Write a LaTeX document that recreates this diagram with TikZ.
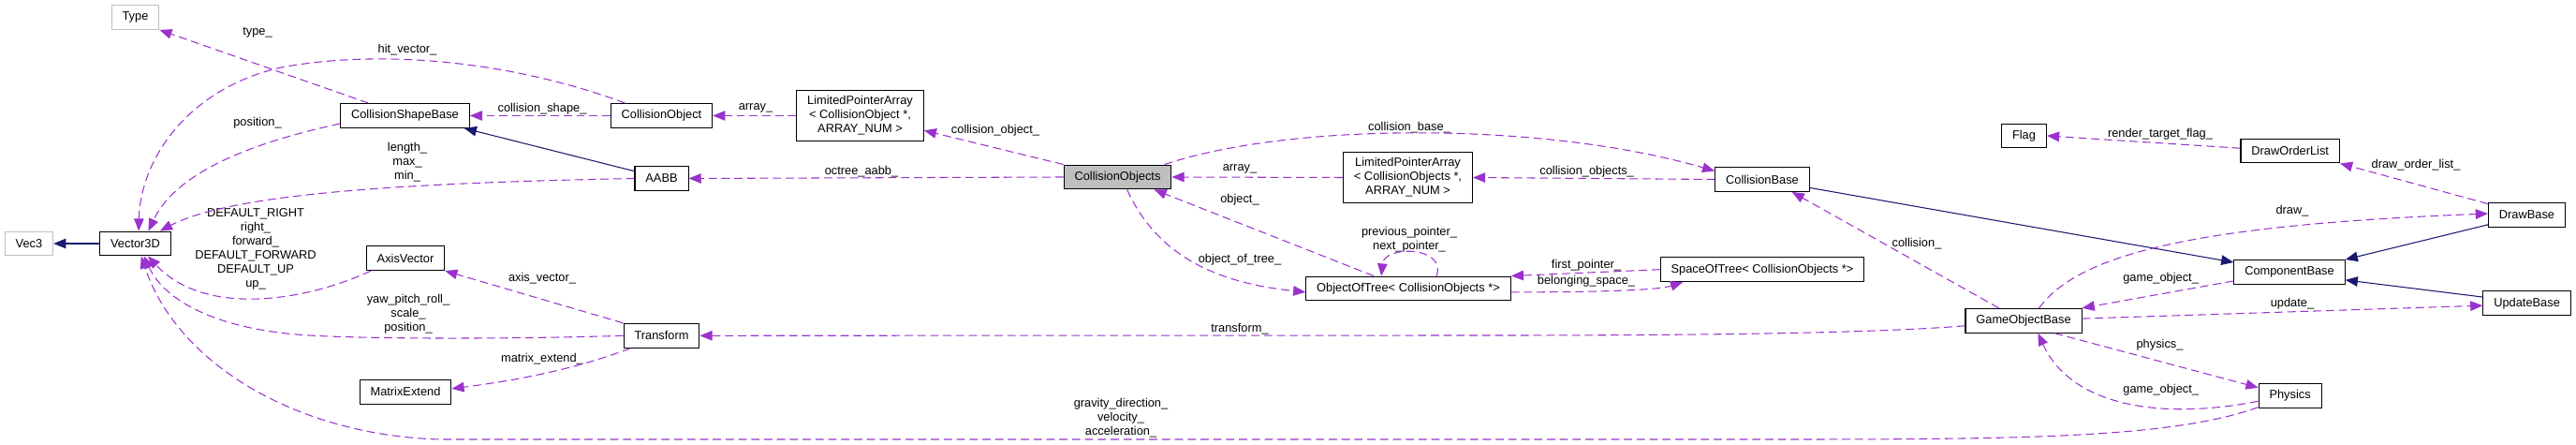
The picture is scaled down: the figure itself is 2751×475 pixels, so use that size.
\documentclass[tikz,border=0pt]{standalone}
\usepackage{fontspec}
\setmainfont{Liberation Sans}
\usetikzlibrary{arrows.meta}
\definecolor{depcol}{HTML}{9A32CD}
\definecolor{inhcol}{HTML}{191970}
\definecolor{undoc}{HTML}{BFBFBF}
\newcommand\dxfont{\fontsize{7.3pt}{8.5pt}\selectfont}
\tikzset{
  cls/.style={draw=black, fill=white, line width=0.6pt, font=\dxfont, inner xsep=6.5pt, inner ysep=2pt, minimum height=14.7pt},
  ext/.style={cls, draw=undoc},
  cur/.style={cls, fill=undoc},
  lpa/.style={cls, align=center, minimum height=31pt},
  dep/.style={draw=depcol, line width=0.6pt, dash pattern=on 5pt off 2.8pt, -{Triangle[length=7.5pt, width=6pt]}},
  inh/.style={draw=inhcol, line width=0.6pt, -{Triangle[length=7.5pt, width=6pt]}},
  lbl/.style={font=\dxfont, align=center, inner sep=0pt}
}

\begin{document}
\begin{tikzpicture}[x=0.02cm, y=-0.02cm]
  \useasboundingbox (0,0) rectangle (2751,475);

  % classes
  \node[ext] at (144.5,18.5) (type) {Type};
  \node[ext] at (31,260) (vec3) {Vec3};
  \node[cls] at (144.5,260) (v3d) {Vector3D};
  \node[cls] at (432.5,123.5) (csb) {CollisionShapeBase};
  \node[cls] at (706.5,123.5) (cobj) {CollisionObject};
  \node[cls] at (706.5,190.5) (aabb) {AABB};
  \node[lpa] at (918.5,123.5) (lpaco) {LimitedPointerArray\\< CollisionObject *,\\ ARRAY\_NUM >};
  \node[cur] at (1193.5,189) (cobjs) {CollisionObjects};
  \node[lpa] at (1503.5,189.5) (lpacos) {LimitedPointerArray\\< CollisionObjects *,\\ ARRAY\_NUM >};
  \node[cls] at (1504,308) (oot) {ObjectOfTree< CollisionObjects *>};
  \node[cls] at (1882,191.5) (cbase) {CollisionBase};
  \node[cls] at (1882,287.7) (sot) {SpaceOfTree< CollisionObjects *>};
  \node[cls] at (2161.5,145) (flag) {Flag};
  \node[cls] at (2445.7,161) (dol) {DrawOrderList};
  \node[cls] at (2698.5,229.5) (dbase) {DrawBase};
  \node[cls] at (2445,290.5) (compb) {ComponentBase};
  \node[cls] at (2698.6,323.7) (updb) {UpdateBase};
  \node[cls] at (2161,342.3) (gob) {GameObjectBase};
  \node[cls] at (2445.6,422.3) (phys) {Physics};
  \node[cls] at (433,275.7) (axis) {AxisVector};
  \node[cls] at (706.5,358.3) (trans) {Transform};
  \node[cls] at (433,418.3) (mext) {MatrixExtend};

  % member labels
  \node[lbl] at (275,35) (l_type) {type\_};
  \node[lbl] at (435,52.7) (l_hit) {hit\_vector\_};
  \node[lbl] at (275,131) (l_pos) {position\_};
  \node[lbl] at (435,173) (l_len) {length\_\\max\_\\min\_};
  \node[lbl] at (273,266) (l_dir) {DEFAULT\_RIGHT\\right\_\\forward\_\\DEFAULT\_FORWARD\\DEFAULT\_UP\\up\_};
  \node[lbl] at (436,335.5) (l_ypr) {yaw\_pitch\_roll\_\\scale\_\\position\_};
  \node[lbl] at (1197,446) (l_grav) {gravity\_direction\_\\velocity\_\\acceleration\_};
  \node[lbl] at (579,116) (l_shape) {collision\_shape\_};
  \node[lbl] at (807,115) (l_arr1) {array\_};
  \node[lbl] at (1063,139.3) (l_cobj) {collision\_object\_};
  \node[lbl] at (920,182.7) (l_oct) {octree\_aabb\_};
  \node[lbl] at (1324,180.7) (l_arr2) {array\_};
  \node[lbl] at (1324,212.7) (l_obj) {object\_};
  \node[lbl] at (1324,276.7) (l_oot) {object\_of\_tree\_};
  \node[lbl] at (1505,255.5) (l_ptr) {previous\_pointer\_\\next\_pointer\_};
  \node[lbl] at (1505,136) (l_cbase) {collision\_base\_};
  \node[lbl] at (1694.6,183) (l_cobjs) {collision\_objects\_};
  \node[lbl] at (1694,283) (l_first) {first\_pointer\_};
  \node[lbl] at (1694,300) (l_space) {belonging\_space\_};
  \node[lbl] at (2047,260) (l_coll) {collision\_};
  \node[lbl] at (2448,225) (l_draw) {draw\_};
  \node[lbl] at (2307.6,297) (l_go1) {game\_object\_};
  \node[lbl] at (2448,324) (l_upd) {update\_};
  \node[lbl] at (2306.5,368) (l_phys) {physics\_};
  \node[lbl] at (2307.7,416) (l_go2) {game\_object\_};
  \node[lbl] at (2580,176) (l_dol) {draw\_order\_list\_};
  \node[lbl] at (2307,143) (l_flag) {render\_target\_flag\_};
  \node[lbl] at (1324,351) (l_trans) {transform\_};
  \node[lbl] at (579,296.7) (l_axis) {axis\_vector\_};
  \node[lbl] at (579,383.3) (l_mext) {matrix\_extend\_};

  % inheritance
  \draw[inh] (v3d.west) -- (vec3.east);
  \draw[inh] (aabb.165.7) -- (csb.-12.7);
  \draw[inh] (cbase.-10.6) -- (compb.170.9);
  \draw[inh] (dbase.194.5) -- (compb.north east);
  \draw[inh] (updb.172.7) -- (compb.-8.5);

  % members, left part
  \draw[dep] (csb.161.6) -- (type.south east);
  \draw[dep] (cobj.161) .. controls (560,70) and (420,50) .. (300,72)
    .. controls (200,95) and (150,170) .. (v3d.75);
  \draw[dep] (csb.187.8) .. controls (280,150) and (190,180) .. (v3d.44);
  \draw[dep] (aabb.west) .. controls (450,195) and (250,205) .. (v3d.27);
  \draw[dep] (axis.200) .. controls (330,320) and (220,340) .. (v3d.-45);
  \draw[dep] (trans.west) .. controls (550,362) and (400,362) .. (330,358)
    .. controls (230,352) and (175,320) .. (v3d.-55);
  \draw[dep] (phys.200) .. controls (2320,468) and (2150,469) .. (1900,469) -- (470,469)
    .. controls (320,465) and (190,390) .. (v3d.-65);
  \draw[dep] (cobj.west) -- (csb.east);
  \draw[dep] (lpaco.west) -- (cobj.east);
  \draw[dep] (cobjs.north west) -- (lpaco.-13.5);
  \draw[dep] (cobjs.west) -- (aabb.east);
  \draw[dep] (trans.north west) -- (axis.south east);
  \draw[dep] (trans.202) .. controls (620,392) and (560,405) .. (mext.4.5);

  % members, middle part
  \draw[dep] (lpacos.west) -- (cobjs.east);
  \draw[dep] (oot.160) -- (cobjs.-19.6);
  \draw[dep] (cobjs.-53.8) .. controls (1230,260) and (1280,300) .. (oot.182.6);
  \draw[dep] (oot.24.1) .. controls (1545,262) and (1478,262) .. (oot.155);
  \draw[dep] (cobjs.15.1) .. controls (1380,130) and (1650,130) .. (cbase.170.9);
  \draw[dep] (cbase.west) -- (lpacos.east);
  \draw[dep] (sot.west) -- (oot.north east);
  \draw[dep] (oot.-2) .. controls (1700,312) and (1770,310) .. (sot.189.8);
  \draw[dep] (gob.185.5) .. controls (2000,356) and (1800,358) .. (1600,358) -- (trans.east);

  % members, right part
  \draw[dep] (gob.153.4) -- (cbase.-23.7);
  \draw[dep] (gob.39) .. controls (2220,270) and (2350,240) .. (dbase.178.3);
  \draw[dep] (compb.189.1) -- (gob.north east);
  \draw[dep] (gob.2) -- (updb.183.7);
  \draw[dep] (gob.-22.4) -- (phys.166.7);
  \draw[dep] (phys.190) .. controls (2300,450) and (2210,430) .. (gob.-41);
  \draw[dep] (dbase.164.5) -- (dol.south east);
  \draw[dep] (dol.177) -- (flag.east);
\end{tikzpicture}
\end{document}
